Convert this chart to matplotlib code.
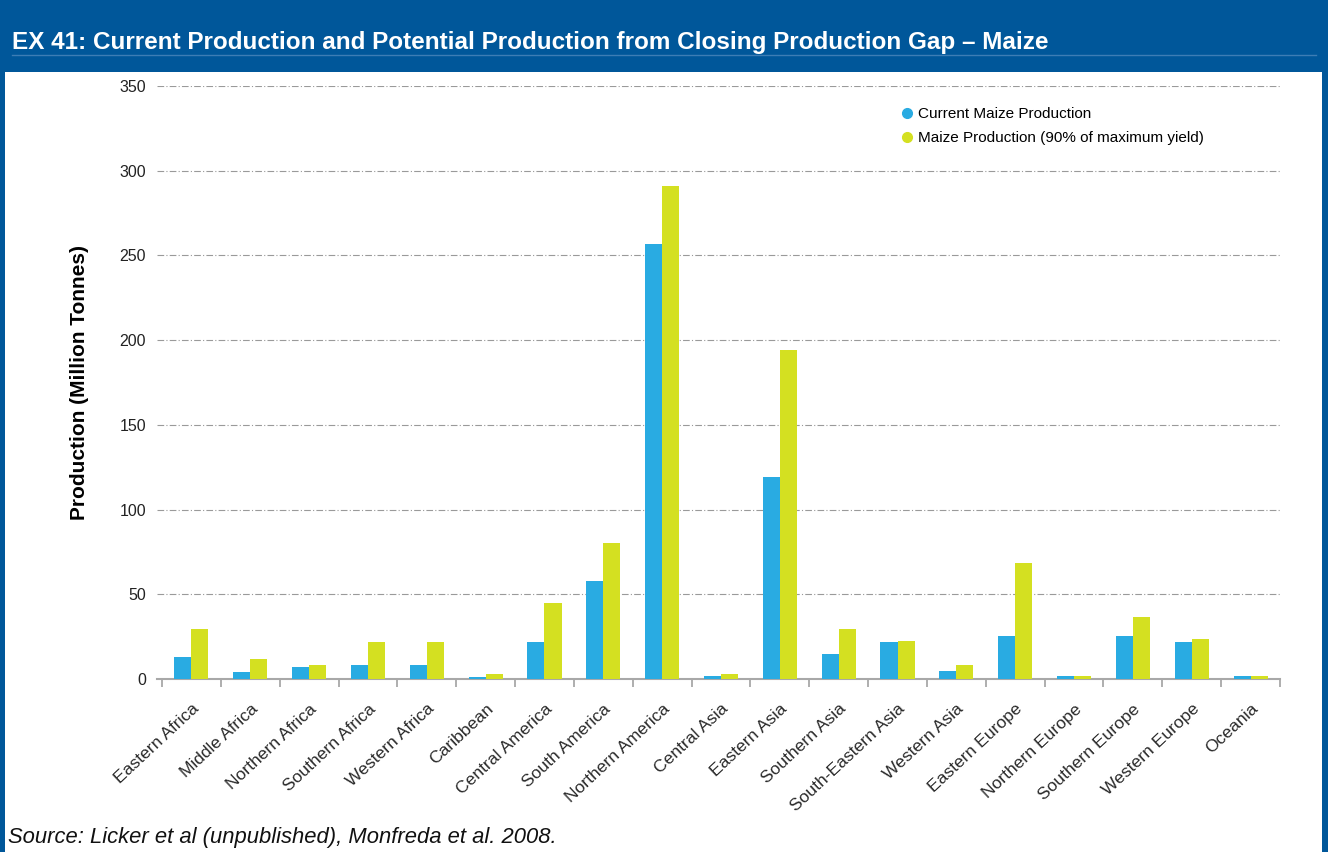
import matplotlib
matplotlib.use("Agg")
import matplotlib.pyplot as plt
from matplotlib.patches import Rectangle
from matplotlib.lines import Line2D
import numpy as np

plt.rcParams['font.family'] = ['Liberation Sans', 'DejaVu Sans']

# Regions (x axis)
regiones = ['Eastern Africa', 'Middle Africa', 'Northern Africa', 'Southern Africa',
            'Western Africa', 'Caribbean', 'Central America', 'South America',
            'Northern America', 'Central Asia', 'Eastern Asia', 'Southern Asia',
            'South-Eastern Asia', 'Western Asia', 'Eastern Europe', 'Northern Europe',
            'Southern Europe', 'Western Europe', 'Oceania']

# Million tonnes
produccion_actual = [13, 4, 7, 8, 8, 1, 22, 58, 257, 2, 119, 15, 22, 5, 25.5, 2, 25.5, 22, 2]
produccion_potencial = [29.5, 12, 8, 22, 22, 3, 45, 80, 291, 3, 194, 29.5, 22.5, 8, 68.5, 2, 36.5, 23.5, 2]

y_ticks = [0, 50, 100, 150, 200, 250, 300, 350]

AZUL = '#29ABE2'
AMARILLO = '#D4E021'
CABECERA = '#00579A'

fig = plt.figure(figsize=(13.28, 8.52), dpi=100)
W, H = 1328, 852

# Header band and frame
fig.add_artist(Rectangle((0, 1 - 72 / H), 1, 72 / H, transform=fig.transFigure,
                         facecolor=CABECERA, edgecolor='none', zorder=0))
fig.add_artist(Line2D([12 / W, 1316 / W], [1 - 55 / H, 1 - 55 / H], transform=fig.transFigure,
                      color='#3D7DB5', lw=1))
fig.add_artist(Rectangle((0, 0), 5 / W, 1, transform=fig.transFigure,
                         facecolor=CABECERA, edgecolor='none'))
fig.add_artist(Rectangle((1 - 6 / W, 0), 6 / W, 1, transform=fig.transFigure,
                         facecolor=CABECERA, edgecolor='none'))

fig.text(12 / W, 1 - 42 / H,
         'EX 41: Current Production and Potential Production from Closing Production Gap \u2013 Maize',
         color='white', fontsize=17.5, fontweight='bold', va='center', ha='left')

fig.text(8 / W, 1 - 838 / H, 'Source: Licker et al (unpublished), Monfreda et al. 2008.',
         fontsize=15.8, style='italic', va='center', ha='left', color='#111111')

# Axes
ax = fig.add_axes([157 / W, 1 - 679 / H, (1280 - 157) / W, (679 - 86) / H])
x = np.arange(len(regiones))
ancho = 0.29
ax.bar(x - ancho / 2, produccion_actual, ancho, color=AZUL, zorder=3)
ax.bar(x + ancho / 2, produccion_potencial, ancho, color=AMARILLO, zorder=3)

ax.set_ylim(0, 350)
ax.set_xlim(-0.5 - 5 / 58.8, len(regiones) - 0.5)
ax.set_yticks(y_ticks)
ax.tick_params(axis='y', length=0, labelsize=11.5, colors='#222222', pad=8)
ax.yaxis.grid(True, color='#9A9A9A', linestyle=(0, (6, 2, 1, 2)), lw=0.8, zorder=0)
ax.set_axisbelow(True)

for lado in ['left', 'right', 'top']:
    ax.spines[lado].set_visible(False)
ax.spines['bottom'].set_color('#A8A8A8')
ax.spines['bottom'].set_linewidth(1.5)

# Ticks at category boundaries, labels at centres
ax.set_xticks(np.arange(len(regiones) + 1) - 0.5)
ax.set_xticklabels([])
ax.tick_params(axis='x', which='major', length=6, width=1.3, color='#A8A8A8')
ax.set_xticks(x, minor=True)
ax.set_xticklabels(regiones, minor=True, rotation=43, ha='right', rotation_mode='anchor',
                   fontsize=12.6, color='#2A2A2A')
ax.tick_params(axis='x', which='minor', length=0, pad=16)

ax.set_ylabel('Production (Million Tonnes)', fontsize=15, fontweight='bold', labelpad=22)

# Legend with round markers
manejadores = [Line2D([], [], marker='o', ls='none', markersize=7, color=AZUL),
               Line2D([], [], marker='o', ls='none', markersize=7, color=AMARILLO)]
ax.legend(manejadores, ['Current Maize Production', 'Maize Production (90% of maximum yield)'],
          loc='upper left', bbox_to_anchor=(0.65, 0.987), frameon=False, fontsize=11,
          handlelength=0.8, handletextpad=0.3, labelspacing=0.65)

fig.savefig('out.png', dpi=100)
